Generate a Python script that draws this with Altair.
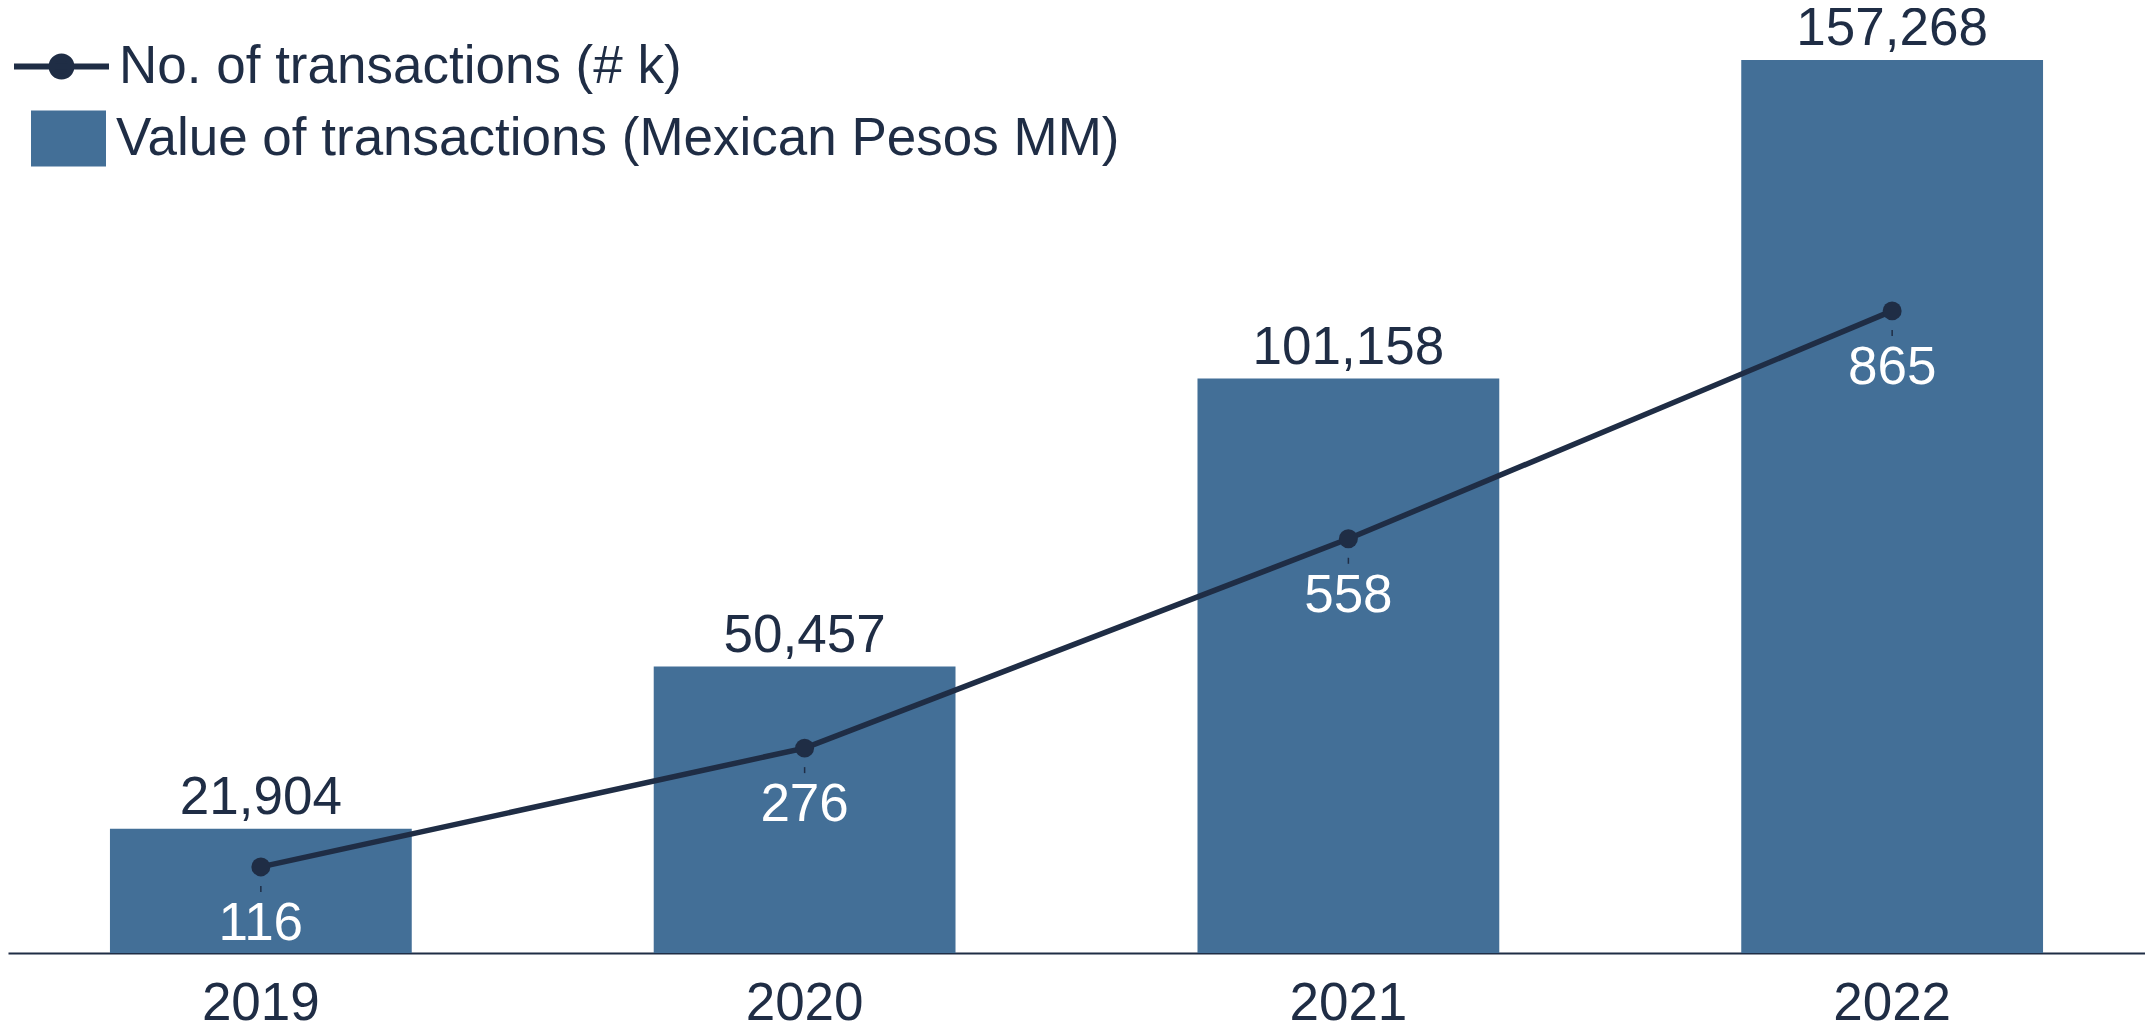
import altair as alt
import pandas as pd

years = ["2019", "2020", "2021", "2022"]
values_mxn = [21904, 50457, 101158, 157268]
transactions_k = [116, 276, 558, 865]

bar_name = "Value of transactions (Mexican Pesos MM)"
line_name = "No. of transactions (# k)"

BAR = "#436f97"
NAVY = "#1f2d45"
FONT = "Liberation Sans"

df = pd.DataFrame({
    "year": years,
    "value": values_mxn,
    "count": transactions_k,
    "bar_series": [bar_name] * 4,
    "line_series": [line_name] * 4,
})

x = alt.X("year:N", sort=years,
          scale=alt.Scale(paddingInner=0.445, paddingOuter=0.1875),
          axis=alt.Axis(title=None, labelAngle=0, labelFontSize=53, labelFont=FONT,
                        labelColor=NAVY, domainColor=NAVY, domainWidth=2, ticks=False,
                        labelPadding=24, grid=False))

ybar = alt.Y("value:Q", scale=alt.Scale(domain=[0, 166430], nice=False), axis=None)
yline = alt.Y("count:Q", scale=alt.Scale(domain=[0, 1273], nice=False), axis=None)

base = alt.Chart(df)

bars = base.mark_bar(color=BAR).encode(
    x=x, y=ybar,
    color=alt.Color("bar_series:N", scale=alt.Scale(domain=[bar_name], range=[BAR]),
                    legend=alt.Legend(title=None, orient="none", legendX=23, legendY=93,
                                      symbolType="M-1,-0.747H1V0.747H-1Z", symbolSize=5625,
                                      symbolStrokeWidth=0, labelFontSize=53, labelFont=FONT,
                                      labelColor=NAVY, labelOffset=10, padding=0,
                                      labelLimit=2000)),
)
bar_text = base.mark_text(fontSize=53, font=FONT, color=NAVY, baseline="alphabetic", dy=-15).encode(
    x=x, y=ybar, text=alt.Text("value:Q", format=",")
)
bar_layer = alt.layer(bars, bar_text)

line = base.mark_line(color=NAVY, strokeWidth=5.5).encode(x=x, y=yline)
pts = base.mark_circle(size=360, opacity=1).encode(
    x=x, y=yline,
    color=alt.Color("line_series:N", scale=alt.Scale(domain=[line_name], range=[NAVY]),
                    legend=alt.Legend(title=None, orient="none", legendX=3, legendY=8,
                                      symbolType="M-1,0H1M-0.21,0A0.21,0.21 0 1,0 0.21,0A0.21,0.21 0 1,0 -0.21,0Z",
                                      symbolSize=9025, symbolStrokeColor=NAVY, symbolFillColor=NAVY,
                                      symbolStrokeWidth=6, symbolOpacity=1,
                                      labelFontSize=53, labelFont=FONT, labelColor=NAVY,
                                      labelOffset=7, padding=0, labelLimit=2000)),
)
dash = base.mark_rule(color=NAVY, strokeWidth=1.5, yOffset=19, y2Offset=25).encode(
    x=x, y=yline, y2="count:Q"
)
line_text = base.mark_text(fontSize=53, font=FONT, color="white", baseline="alphabetic", dy=73).encode(
    x=x, y=yline, text=alt.Text("count:Q")
)
line_layer = alt.layer(line, pts, dash, line_text)

chart = alt.layer(bar_layer, line_layer).resolve_scale(
    y="independent", color="independent"
).properties(
    width=2137, height=945,
    padding={"left": 0, "top": 0, "right": 0, "bottom": 71},
    autosize=alt.AutoSizeParams(type="none"),
).configure_view(stroke=None)

chart.save("out.html", embed_options={"renderer": "svg", "actions": False})
